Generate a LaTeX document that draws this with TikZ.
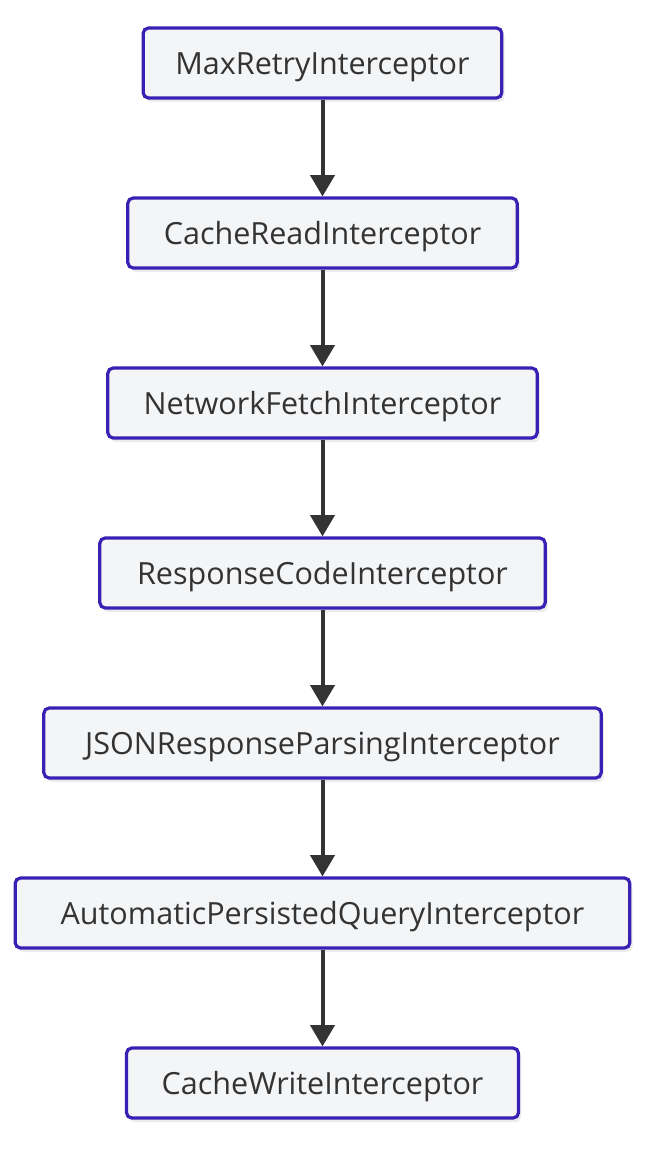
\documentclass[tikz,border=0pt]{standalone}
\usepackage{fontspec}
\setmainfont{Open Sans}
\usetikzlibrary{arrows.meta,shadows}
\definecolor{boxline}{RGB}{57,32,180}
\definecolor{boxfill}{RGB}{244,245,247}
\definecolor{ink}{RGB}{51,51,51}
\tikzset{
  ibox/.style={draw=boxline, fill=boxfill, line width=2.4pt, rounded corners=4pt,
    minimum height=52.5pt, inner sep=0pt, text=ink,
    text height=17.5pt, text depth=0pt,
    font=\fontsize{22.9pt}{27pt}\selectfont,
    drop shadow={shadow xshift=2pt, shadow yshift=-3pt, opacity=0.08, fill=black}},
  flow/.style={draw=ink, line width=3pt, -{Triangle[length=16pt,width=18pt]}}
}
\begin{document}
\begin{tikzpicture}[x=0.75pt,y=-0.75pt]
\useasboundingbox (0,0) rectangle (656,1152);
\node[ibox, minimum width=269pt] (a) at (322.5,63) {MaxRetryInterceptor};
\node[ibox, minimum width=292pt] (b) at (322.5,233) {CacheReadInterceptor};
\node[ibox, minimum width=322pt] (c) at (322.5,403) {NetworkFetchInterceptor};
\node[ibox, minimum width=334pt] (d) at (322.5,573) {ResponseCodeInterceptor};
\node[ibox, minimum width=418pt] (e) at (322.5,743) {JSONResponseParsingInterceptor};
\node[ibox, minimum width=461pt] (f) at (322.5,913) {AutomaticPersistedQueryInterceptor};
\node[ibox, minimum width=294pt] (g) at (322.5,1083) {CacheWriteInterceptor};
\draw[flow] (a) -- (b);
\draw[flow] (b) -- (c);
\draw[flow] (c) -- (d);
\draw[flow] (d) -- (e);
\draw[flow] (e) -- (f);
\draw[flow] (f) -- (g);
\end{tikzpicture}
\end{document}
